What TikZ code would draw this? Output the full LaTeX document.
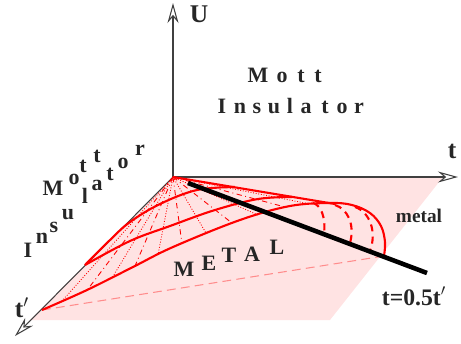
\documentclass[tikz,border=0pt]{standalone}
\usepackage{fontspec}
\setmainfont{Liberation Serif}
\usetikzlibrary{arrows.meta}

\begin{document}
\begin{tikzpicture}[x=0.02cm, y=-0.02cm, >={Stealth[open, length=4mm, width=2.2mm, inset=1.3mm]}]
  \tikzstyle{axis}=[draw=black!75, line width=0.6pt, ->]
  \tikzstyle{surf}=[draw=red, line width=1.2pt]
  \tikzstyle{cut}=[draw=red, line width=1.2pt, dash pattern=on 4pt off 3pt]
  \tikzstyle{ray}=[draw=red, line width=0.5pt]
  \tikzstyle{lbl}=[font=\fontsize{14.5}{16}\selectfont\bfseries, inner sep=0pt, anchor=base, text=black!85]
  \tikzstyle{word}=[font=\fontsize{12.5}{14}\selectfont\bfseries, inner sep=0pt, anchor=base, text=black!85]
  \useasboundingbox (0,0) rectangle (461,343);

  \coordinate (O) at (173,177);
  \coordinate (Uend) at (173,3);
  \coordinate (tend) at (458,177);
  \coordinate (tpend) at (15,336);
  \coordinate (pA) at (30,320);
  \coordinate (pB) at (330,320);
  \coordinate (pC) at (443,177);
  \coordinate (tp0) at (42,310);
  \coordinate (tp1) at (85,265);
  \coordinate (rim) at (384,256);
  \coordinate (bl0) at (188,183);
  \coordinate (bl1) at (427,273);

  % base plane
  \fill[red!11] (O) -- (pC) -- (pB) -- (pA) -- cycle;
  \draw[red!45, line width=0.6pt, dash pattern=on 5pt off 3pt] (tp0) -- (rim);

  % axes
  \draw[axis] (O) -- (Uend);
  \draw[axis] (O) -- (tend);
  \draw[axis] (O) -- (tpend);

  % rays of the surface
  \foreach \x/\y in {62/301, 112/278, 158/255, 206/233, 258/215, 310/204}
    \draw[ray, densely dotted] (O) -- (\x,\y);
  \foreach \x/\y in {88/289, 135/266, 182/244, 232/223, 285/207}
    \draw[ray, dash dot] (O) -- (\x,\y);

  % cuts of the surface
  \draw[surf] (O) -- (335,204);
  \draw[surf] plot[smooth, tension=0.6] coordinates {(tp0) (87,290) (133,267) (173,247) (240,220) (290,206) (330,203) (352,205) (370,213) (381,226) (385,242) (rim)};
  \draw[surf] plot[smooth, tension=0.6] coordinates {(tp1) (130,241) (170,226) (215,210) (258,199) (292,197)};
  \draw[surf] plot[smooth, tension=0.6] coordinates {(tp1) (110,240) (130,222) (160,204) (197,190) (235,187)};
  \draw[cut] (313,203) .. controls (320,205) and (326,215) .. (324,234);
  \draw[cut] (335,205) .. controls (348,209) and (355,225) .. (350,243);
  \draw[cut] (355,207) .. controls (370,212) and (377,232) .. (370,251);

  % line t=0.5t'
  \draw[black, line width=2.6pt] (bl0) -- (bl1);

  % labels
  \node[lbl] (Ulab) at (199,22) {U};
  \node[lbl] (tlab) at (452,158) {t};
  \node[lbl] (tplab) at (22,317) {t$'$};
  \node[lbl, font=\fontsize{13.5}{15}\selectfont\bfseries] (linelab) at (414,305) {t=0.5t$'$};
  \node[word, font=\fontsize{11}{13}\selectfont\bfseries] (metal) at (419,222) {metal};

  \foreach \c/\x/\y [count=\i] in {M/258/82, o/282/82, t/301/82, t/318/82,
      I/222/113, n/240/113, s/257/113, u/274/113, l/290/113, a/306/113, t/325/113, o/342/113, r/359/113}
    \node[word] (mi\i) at (\x,\y) {\c};
  \foreach \c/\x/\y [count=\i] in {M/53/195, o/74/184, t/83/172, t/97/162,
      I/28/257, n/42/243, s/54/232, u/68/219, l/85/203, a/97/190, t/110/180, o/123/168, r/140/155}
    \node[word] (wi\i) at (\x,\y) {\c};
  \foreach \c/\x/\y [count=\i] in {M/184/276, E/209/270, T/229/262, A/252/261, L/277/254}
    \node[word] (me\i) at (\x,\y) {\c};
\end{tikzpicture}
\end{document}
